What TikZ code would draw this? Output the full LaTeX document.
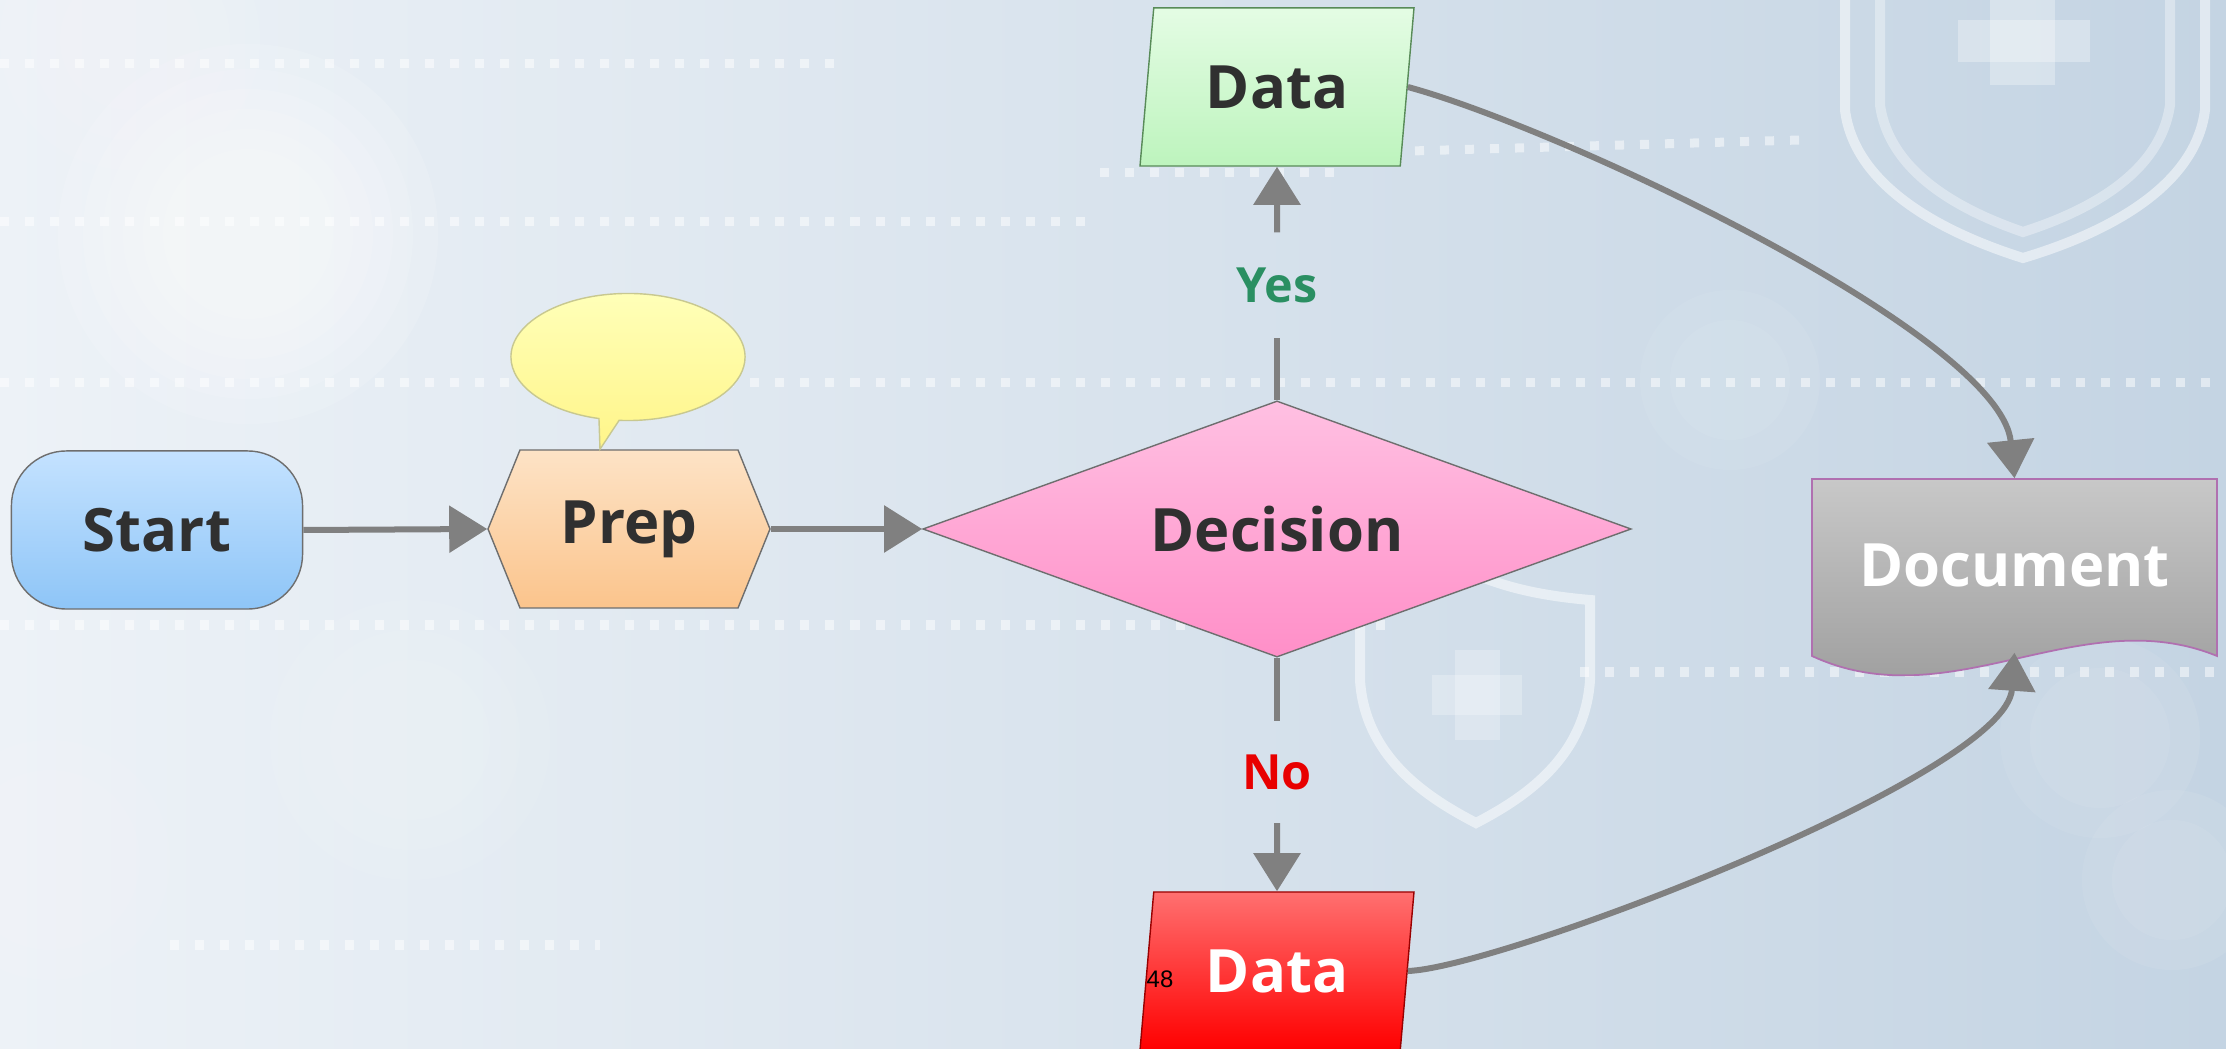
\documentclass[tikz,border=0pt]{standalone}
\usepackage{fontspec}
\setmainfont{Open Sans}
\newfontfamily\pagefont{Liberation Sans}
\usetikzlibrary{arrows.meta,shapes.geometric,shapes.callouts}
\definecolor{bgL}{HTML}{EDF2F7}
\definecolor{bgR}{HTML}{C4D4E3}
\definecolor{txt}{HTML}{303030}
\definecolor{connc}{HTML}{808080}
\definecolor{yesc}{HTML}{2A8F62}
\definecolor{noc}{HTML}{E80000}
\definecolor{startT}{HTML}{C4E2FF}
\definecolor{startB}{HTML}{8EC5F7}
\definecolor{prepT}{HTML}{FDE3C6}
\definecolor{prepB}{HTML}{FBC48C}
\definecolor{noteT}{HTML}{FFFFB8}
\definecolor{noteB}{HTML}{FFF589}
\definecolor{noteE}{HTML}{C8C890}
\definecolor{decT}{HTML}{FFC0E2}
\definecolor{decB}{HTML}{FF8FC8}
\definecolor{dyT}{HTML}{E4FCE4}
\definecolor{dyB}{HTML}{BDF4BD}
\definecolor{dnT}{HTML}{FF7070}
\definecolor{dnB}{HTML}{FF0000}
\definecolor{docT}{HTML}{C8C8C8}
\definecolor{docB}{HTML}{989898}
\definecolor{docE}{HTML}{B070B0}
\definecolor{edgeG}{HTML}{6E6E6E}
\begin{document}
\begin{tikzpicture}[x=0.01cm,y=-0.01cm,
 lbl/.style={font=\fontsize{17}{20}\selectfont\bfseries,text=txt},
 bordr/.style={draw=edgeG,line width=0.4pt},
 edge/.style={draw=connc,line width=0.06cm},
 arr/.style={edge,-{Triangle[length=0.38cm,width=0.46cm]}},
 decolab/.style={font=\fontsize{13.8}{16}\selectfont\bfseries,inner sep=0pt},
 dots/.style={white,opacity=0.5,line width=0.09cm,dash pattern=on 0.09cm off 0.16cm},
 shieldline/.style={white,opacity=0.5,line width=0.1cm},
 startbox/.style={rectangle,rounded corners=0.55cm,minimum width=2.91cm,minimum height=1.58cm,inner sep=0pt,top color=startT,bottom color=startB,bordr,lbl},
 databox/.style={trapezium,trapezium left angle=79.6,trapezium right angle=100.4,trapezium stretches=true,minimum width=2.74cm,minimum height=1.58cm,inner sep=0pt,lbl},
 decbox/.style={diamond,aspect=2.766,minimum width=7.08cm,minimum height=2.56cm,inner sep=0pt,top color=decT,bottom color=decB,bordr,lbl}
]
% background
\shade[left color=bgL,right color=bgR] (0,0) rectangle (2226,1049);
\useasboundingbox (0,0) rectangle (2226,1049);
\foreach \r in {1.9cm,1.65cm,1.45cm,1.25cm,1.05cm,0.85cm}{\fill[white,opacity=0.12] (248,234) circle (\r);}
\foreach \r in {1.3cm,1.0cm,0.7cm}{\fill[white,opacity=0.07] (130,40) circle (\r);}
\foreach \r in {1.4cm,1.1cm,0.8cm}{\fill[white,opacity=0.06] (410,740) circle (\r);}
\foreach \r in {1.2cm,0.9cm}{\fill[white,opacity=0.06] (50,860) circle (\r);}
\foreach \r in {1.0cm,0.7cm}{\fill[white,opacity=0.07] (2100,738) circle (\r);}
\foreach \r in {0.9cm,0.6cm}{\fill[white,opacity=0.07] (2172,880) circle (\r);}
\foreach \r in {0.9cm,0.6cm}{\fill[white,opacity=0.06] (1730,380) circle (\r);}
\draw[dots] (0,64) -- (850,64);
\draw[dots] (0,222) -- (1100,222);
\draw[dots] (1100,173) -- (1340,173);
\draw[dots] (1340,153) -- (1800,140);
\draw[dots] (0,383) -- (2226,383);
\draw[dots] (0,625) -- (1400,625);
\draw[dots] (1580,672) -- (2226,672);
\draw[dots] (170,945) -- (600,945);
% shields
\draw[shieldline] (1845,-10) -- (1845,110) .. controls (1855,190) and (1950,235) .. (2023,258) .. controls (2100,235) and (2195,190) .. (2205,110) -- (2205,-10);
\draw[shieldline,opacity=0.35] (1880,-10) -- (1880,105) .. controls (1890,175) and (1965,212) .. (2023,232) .. controls (2085,212) and (2160,175) .. (2170,105) -- (2170,-10);
\fill[white,opacity=0.3] (1990,0) rectangle (2055,85);
\fill[white,opacity=0.3] (1958,20) rectangle (2090,62);
\draw[shieldline] (1360,600) .. controls (1420,595) and (1450,585) .. (1476,575) .. controls (1502,585) and (1532,595) .. (1590,600) -- (1590,680) .. controls (1585,760) and (1520,800) .. (1476,823) .. controls (1432,800) and (1365,760) .. (1360,680) -- cycle;
\fill[white,opacity=0.25] (1455,650) rectangle (1500,740);
\fill[white,opacity=0.25] (1432,675) rectangle (1522,715);
% nodes
\node[startbox] (start) at (157,530) {Start};
\path[top color=prepT,bottom color=prepB,bordr] (488,529) -- (520,450) -- (738,450) -- (770,529) -- (738,608) -- (520,608) -- cycle;
\node[lbl,minimum width=2.82cm,minimum height=1.58cm,inner sep=0pt] (prep) at (629,529) {Prep};
\node[ellipse callout,callout pointer arc=10,minimum width=2.34cm,minimum height=1.27cm,callout absolute pointer={([xshift=-0.29cm]prep.north)},top color=noteT,bottom color=noteB,draw=noteE,line width=0.4pt] (note) at (628,357) {};
\node[decbox] (dec) at (1277,529) {Decision};
\node[databox,top color=dyT,bottom color=dyB,draw=edgeG!80!green,line width=0.4pt] (dy) at (1277,87) {Data};
\node[databox,top color=dnT,middle color=dnB,bottom color=dnB,draw=red!60!black,line width=0.4pt,text=white] (dn) at (1277,971) {Data};
\path[top color=docT,bottom color=docB,draw=docE,line width=0.5pt] (1812,479) -- (2217,479) -- (2217,656) .. controls (2080,600) and (1950,720) .. (1812,656) -- cycle;
\node[lbl,text=white,minimum width=4.05cm,minimum height=1.72cm,inner sep=0pt] (doc) at (2014.5,565) {Document};
\node[decolab,text=yesc,minimum height=1.04cm] (yes) at (1277,285) {Yes};
\node[decolab,text=noc,minimum height=1.01cm] (no) at (1277,772) {No};
\node[font=\pagefont\fontsize{6.8}{8}\selectfont,text=black,inner sep=0pt] (pagenum) at (1160,979) {48};
% connectors
\draw[arr] (start.east) -- (prep.west);
\draw[arr] (prep.east) -- (dec.west);
\draw[edge] (dec.north) -- (yes.south);
\draw[arr] (yes.north) -- (dy.south);
\draw[edge] (dec.south) -- (no.north);
\draw[arr] (no.south) -- (dn.north);
\draw[arr] (dy.east) .. controls (1560,128) and (2000,335) .. (doc.north);
\draw[arr] (dn.east) .. controls (1500,968) and (2006,775) .. ([yshift=-0.01cm]doc.south);
\end{tikzpicture}
\end{document}
